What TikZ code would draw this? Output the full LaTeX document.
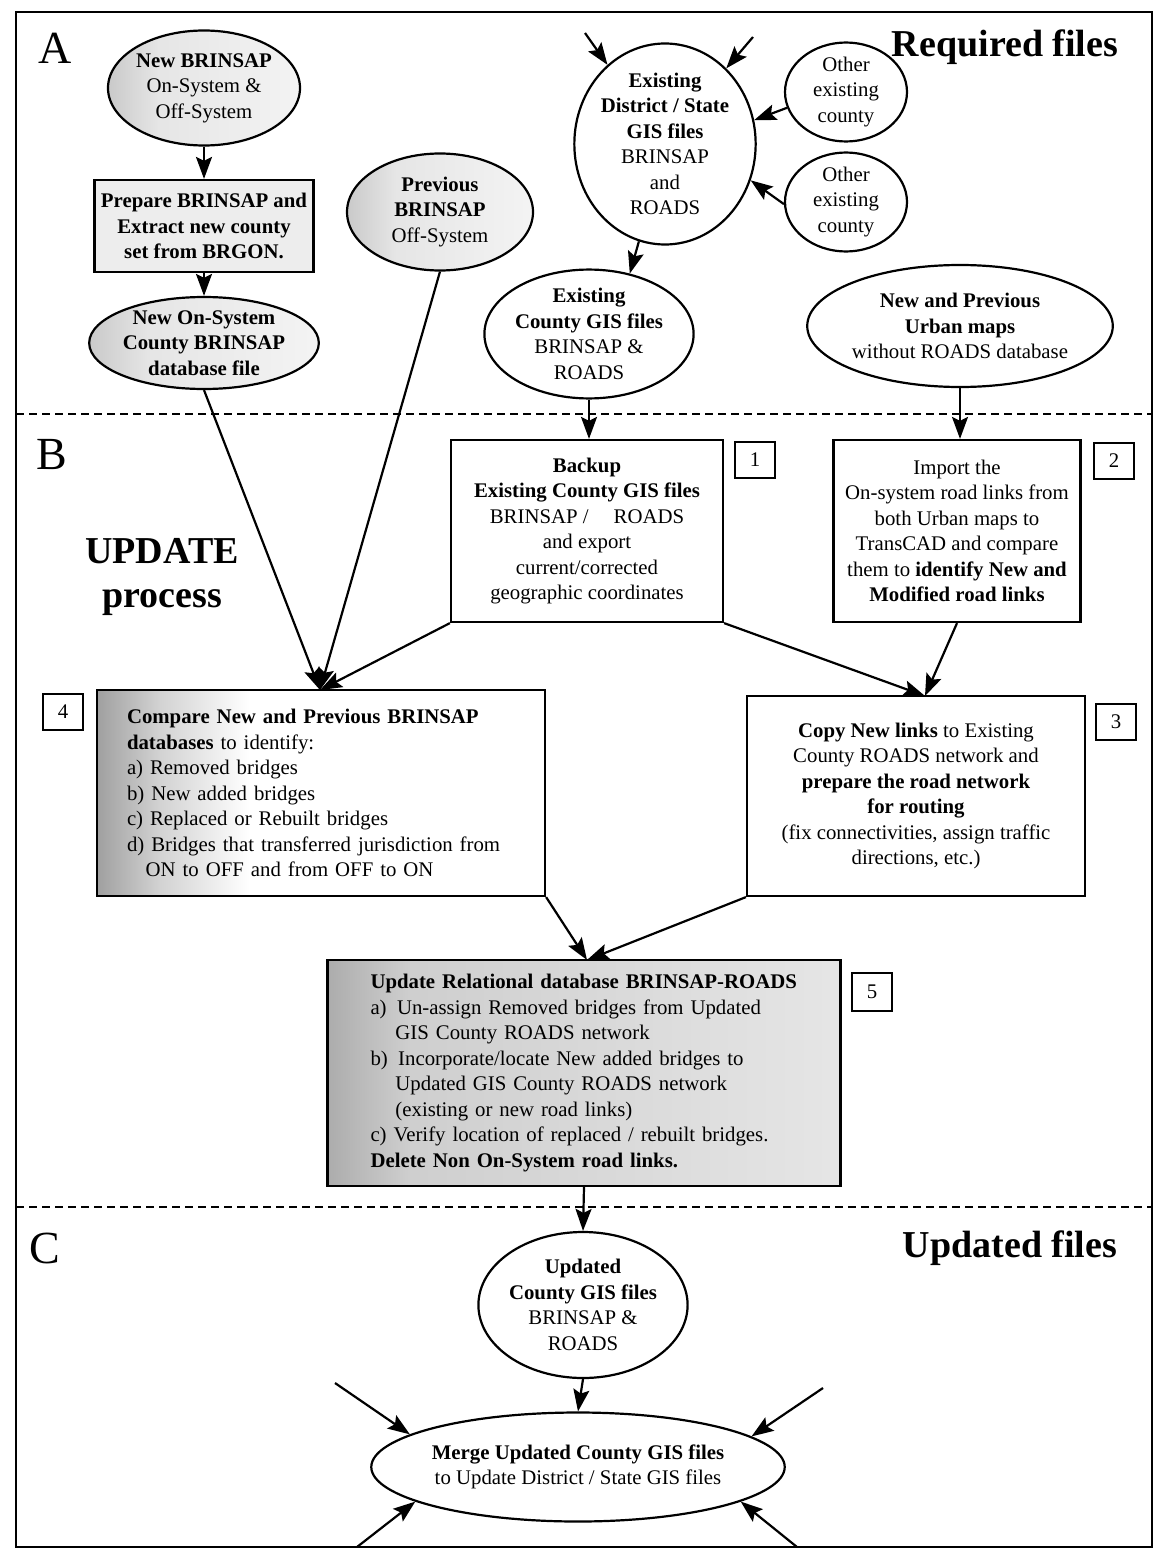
\documentclass[tikz,border=0pt]{standalone}
\usepackage{fontspec}
\setmainfont{Liberation Serif}
\usetikzlibrary{shapes.geometric,arrows.meta,calc}
\newcommand\myfs{\fontsize{20.8}{25.5}\selectfont}
\newcommand\bigfs{\fontsize{38}{44}\selectfont\bfseries}
\newcommand\letfs{\fontsize{46}{50}\selectfont}
\pgfdeclarehorizontalshading{boxfade}{100bp}{color(0bp)=(gray!75); color(25bp)=(gray!75); color(32bp)=(gray!35); color(42bp)=(white); color(100bp)=(white)}
\pgfdeclarehorizontalshading{updfade}{100bp}{color(0bp)=(gray!65); color(25bp)=(gray!65); color(33bp)=(gray!38); color(75bp)=(gray!20); color(100bp)=(gray!20)}
\pgfdeclarehorizontalshading{ellfade}{100bp}{color(0bp)=(gray!42); color(25bp)=(gray!42); color(38bp)=(gray!20); color(75bp)=(gray!9); color(100bp)=(gray!9)}
\tikzset{
  ell/.style={ellipse, draw, line width=2.2pt, inner sep=0pt, align=center, font=\myfs},
  ellg/.style={ell, shading=ellfade},
  box/.style={rectangle, draw, line width=2.2pt, inner sep=0pt, align=center, font=\myfs},
  numbox/.style={rectangle, draw, line width=1.6pt, minimum width=40pt, minimum height=36pt, inner sep=0pt, font=\myfs},
  arr/.style={line width=2.2pt, -{Stealth[length=22pt,width=16pt,inset=4pt]}},
  sep/.style={dash pattern=on 8pt off 5pt, line width=1.4pt},
  lbl/.style={inner sep=0pt, font=\letfs},
  ttl/.style={inner sep=0pt, font=\bigfs, align=center},
}
\begin{document}
\begin{tikzpicture}[x=1pt,y=-1pt]
\useasboundingbox (0,0) rectangle (1169,1554);
\fill[white] (0,0) rectangle (1169,1554);
% frame and separators
\draw[line width=2.2pt] (16,12) rectangle (1152,1547);
\draw[sep] (16,414) -- (1152,414);
\draw[sep] (16,1207) -- (1152,1207);
% section labels
\node[lbl] (A) at (55,48) {A};
\node[lbl] (B) at (52,455) {B};
\node[lbl] (C) at (45,1248) {C};
\node[ttl] (req) at (1005,47) {Required files};
\node[ttl] (upd) at (1010,1248) {Updated files};
\node[ttl] (proc) at (162,577) {UPDATE\\process};
% section A
\node[ellg, minimum width=182pt, minimum height=115pt] (e1) at (204,88) {\textbf{New BRINSAP}\\On-System \&\\Off-System};
\node[box, fill=gray!14, minimum width=219pt, minimum height=92pt] (r1) at (204,226) {\textbf{Prepare BRINSAP and}\\\textbf{Extract new county}\\\textbf{set from BRGON.}};
\node[ellg, minimum width=180pt, minimum height=92pt] (e2) at (204,343) {\textbf{New On-System}\\\textbf{County BRINSAP}\\\textbf{database file}};
\node[ellg, minimum width=186pt, minimum height=117pt] (e3) at (440,212) {\textbf{Previous}\\\textbf{BRINSAP}\\Off-System};
\node[ell, minimum width=170pt, minimum height=186pt] (e4) at (665,144) {\textbf{Existing}\\\textbf{District / State}\\\textbf{GIS files}\\BRINSAP\\and\\ROADS};
\node[ell, minimum width=122pt, minimum height=96pt] (e5) at (846,92) {Other\\existing\\county};
\node[ell, minimum width=122pt, minimum height=96pt] (e6) at (846,202) {Other\\existing\\county};
\node[ell, minimum width=180pt, minimum height=127pt] (e7) at (589,334) {\textbf{Existing}\\\textbf{County GIS files}\\BRINSAP \&\\ROADS};
\node[ell, minimum width=292pt, minimum height=122pt] (e8) at (960,326) {\textbf{New and Previous}\\\textbf{Urban maps}\\without ROADS database};
\coordinate (t1) at (585,33);
\coordinate (t2) at (753,37);
% section B
\node[box, minimum width=272pt, minimum height=182pt] (r2) at (587,531) {\textbf{Backup}\\\textbf{Existing County GIS files}\\BRINSAP /\hspace{1.2em}ROADS\\and export\\current/corrected\\geographic coordinates};
\node[numbox] (n1) at (755,460) {1};
\node[box, minimum width=247pt, minimum height=182pt] (r3) at (957,531) {Import the\\On-system road links from\\both Urban maps to\\TransCAD and compare\\them to \textbf{identify New and}\\\textbf{Modified road links}};
\node[numbox] (n2) at (1114,461) {2};
\node[box, align=left, shading=boxfade, minimum width=448pt, minimum height=206pt, text width=388pt, inner xsep=30pt] (r4) at (321,793) {\textbf{Compare New and Previous BRINSAP}\\\textbf{databases} to identify:\\a) Removed bridges\\b) New added bridges\\c) Replaced or Rebuilt bridges\\d) Bridges that transferred jurisdiction from\\\hspace*{0.9em}ON to OFF and from OFF to ON};
\node[numbox] (n4) at (63,712) {4};
\node[box, minimum width=338pt, minimum height=200pt] (r5) at (916,796) {\textbf{Copy New links} to Existing\\County ROADS network and\\\textbf{prepare the road network}\\\textbf{for routing}\\(fix connectivities, assign traffic\\directions, etc.)};
\node[numbox] (n3) at (1116,722) {3};
\node[box, align=left, shading=updfade, minimum width=513pt, minimum height=226pt, text width=427pt, inner xsep=43pt] (r6) at (584,1073) {\textbf{Update Relational database BRINSAP-ROADS}\\a)\hspace{0.5em}Un-assign Removed bridges from Updated\\\hspace*{1.2em}GIS County ROADS network\\b)\hspace{0.5em}Incorporate/locate New added bridges to\\\hspace*{1.2em}Updated GIS County ROADS network\\\hspace*{1.2em}(existing or new road links)\\c) Verify location of replaced / rebuilt bridges.\\\textbf{Delete Non On-System road links.}};
\node[numbox, minimum height=38pt] (n5) at (872,992) {5};
\coordinate (m4) at (320,690);
\coordinate (m3) at (925,696);
\coordinate (m5) at (587,960);
% section C
\node[ell, minimum width=179pt, minimum height=146pt] (e9) at (583,1305) {\textbf{Updated}\\\textbf{County GIS files}\\BRINSAP \&\\ROADS};
\node[ell, minimum width=345pt, minimum height=109pt] (e10) at (578,1467) {\textbf{Merge Updated County GIS files}\\to Update District / State GIS files};
\coordinate (b1) at (335,1383);
\coordinate (b2) at (823,1388);
\coordinate (b3) at (357,1547);
\coordinate (b4) at (797,1547);
% connectors
\draw[arr] (e1.south) -- (r1.north);
\draw[arr] (r1.south) -- (e2.north);
\draw[arr] (t1) -- (e4.126);
\draw[arr] (t2) -- (e4.51);
\draw[arr] (e5.195) -- (e4.15);
\draw[arr] (e6.182) -- (e4.-23);
\draw[arr] (e4.255) -- (e7.56);
\draw[arr] (e7.south) -- (e7.south |- r2.north);
\draw[arr] (e8.south) -- (e8.south |- r3.north);
\draw[arr] (e2.south) -- (m4);
\draw[arr] (e3.south) -- (m4);
\draw[arr] (r2.south west) -- (m4);
\draw[arr] (r2.south east) -- (m3);
\draw[arr] (r3.south) -- (m3);
\draw[arr] (r4.south east) -- (m5);
\draw[arr] (r5.south west) -- (m5);
\draw[arr] (r6.south) -- (e9.north);
\draw[arr] (e9.south) -- (e10.north);
\draw[arr] (b1) -- (e10.169);
\draw[arr] (b2) -- (e10.10);
\draw[arr] (b3) -- (e10.192);
\draw[arr] (b4) -- (e10.-12);
\end{tikzpicture}
\end{document}
